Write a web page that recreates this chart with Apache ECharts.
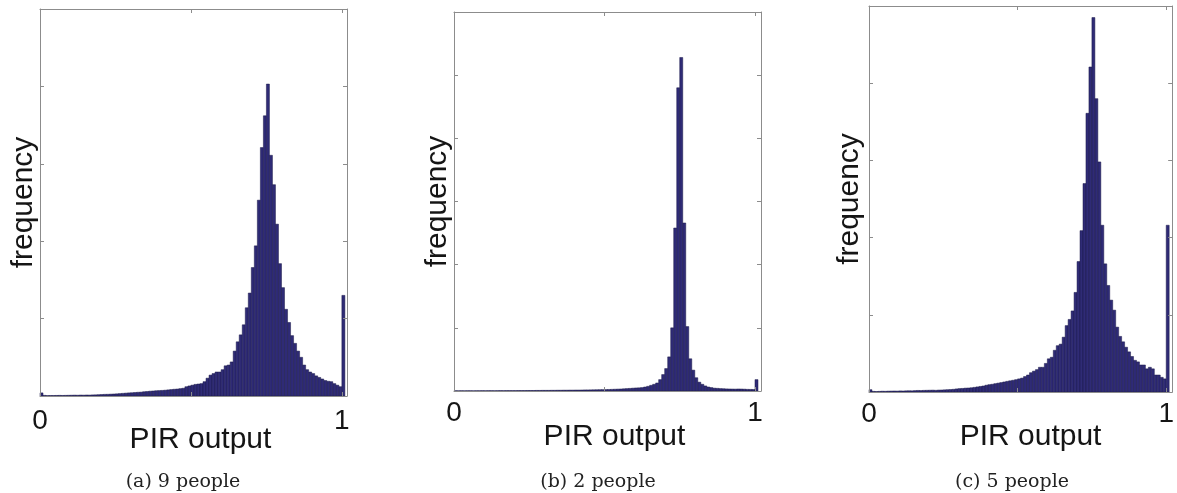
<!DOCTYPE html>
<html><head><meta charset="utf-8">
<script src="https://cdn.jsdelivr.net/npm/echarts@6/dist/echarts.min.js"></script>
<style>html,body{margin:0;padding:0;background:#fff}#c{width:1177px;height:493px}</style>
</head><body><div id="c"></div><script>
// ---- data ----
const binWidth = 0.01;
const binEdges = Array.from({length: 101}, (_, k) => +(k * binWidth).toFixed(2)); // left edges of histogram bins
const freq9 = [0.04,0.008,0.005,0.006,0.006,0.007,0.008,0.007,0.008,0.009,
 0.01,0.011,0.01,0.012,0.011,0.013,0.012,0.014,0.015,0.017,
 0.019,0.021,0.022,0.024,0.026,0.028,0.031,0.034,0.037,0.04,
 0.042,0.045,0.048,0.05,0.055,0.058,0.062,0.065,0.068,0.07,
 0.072,0.075,0.079,0.083,0.087,0.09,0.095,0.10,0.12,0.13,
 0.14,0.15,0.155,0.16,0.185,0.23,0.27,0.29,0.31,0.31,
 0.34,0.39,0.40,0.44,0.58,0.70,0.79,0.92,1.14,1.33,
 1.66,1.94,2.53,3.21,3.62,4.03,3.11,2.73,2.22,1.71,
 1.40,1.12,0.95,0.78,0.68,0.58,0.50,0.40,0.34,0.31,
 0.29,0.26,0.24,0.22,0.20,0.19,0.185,0.16,0.14,0.12,
 1.30];
const freq2 = [0.004,0.003,0.004,0.003,0.004,0.004,0.003,0.004,0.004,0.005,
 0.004,0.005,0.005,0.004,0.005,0.006,0.005,0.006,0.006,0.006,
 0.006,0.007,0.007,0.007,0.008,0.008,0.008,0.009,0.009,0.01,
 0.01,0.01,0.011,0.011,0.012,0.012,0.013,0.013,0.014,0.014,
 0.015,0.015,0.016,0.017,0.017,0.018,0.019,0.02,0.021,0.022,
 0.023,0.024,0.026,0.028,0.03,0.032,0.035,0.038,0.041,0.045,
 0.048,0.05,0.054,0.063,0.074,0.09,0.106,0.127,0.18,0.26,
 0.355,0.54,1.00,2.58,4.80,5.28,2.66,1.02,0.51,0.33,
 0.21,0.14,0.106,0.08,0.063,0.054,0.045,0.042,0.038,0.036,
 0.033,0.032,0.031,0.03,0.032,0.031,0.029,0.026,0.025,0.024,
 0.18];
const freq5 = [0.03,0.008,0.006,0.008,0.01,0.009,0.011,0.012,0.013,0.012,
 0.014,0.013,0.015,0.016,0.015,0.018,0.02,0.019,0.021,0.022,
 0.023,0.024,0.022,0.025,0.026,0.028,0.03,0.032,0.035,0.04,
 0.044,0.046,0.05,0.052,0.055,0.06,0.066,0.072,0.078,0.088,
 0.095,0.10,0.108,0.115,0.122,0.13,0.138,0.145,0.152,0.16,
 0.17,0.18,0.20,0.22,0.25,0.27,0.29,0.32,0.32,0.37,
 0.43,0.45,0.54,0.60,0.62,0.71,0.86,0.94,1.05,1.29,
 1.69,2.09,2.70,3.61,4.21,4.85,3.80,2.98,2.16,1.66,
 1.38,1.19,1.06,0.84,0.72,0.65,0.58,0.52,0.46,0.41,
 0.39,0.35,0.35,0.30,0.32,0.30,0.22,0.22,0.19,0.17,
 2.16];
const xTickValues = [0, 0.5, 1];
const xLabelValues = [0, 1];
const xName = 'PIR output';
const yName = 'frequency';
const captions = ['(a) 9 people', '(b) 2 people', '(c) 5 people'];

// ---- layout ----
const panels = [
  {freq: freq9, left: 40,  top: 9,  width: 307, height: 387, xMax: 1.017, yMax: 5, yGap: 1, lblMargin: 11, nameGap: 29, namePad: 14, cap: [183, 482]},
  {freq: freq2, left: 454, top: 12, width: 307, height: 379, xMax: 1.02,  yMax: 6, yGap: 1, lblMargin: 8,  nameGap: 31, namePad: 14, cap: [598, 482]},
  {freq: freq5, left: 869, top: 6,  width: 307, height: 386, xMax: 1.02,  yMax: 5, yGap: 4, lblMargin: 8,  nameGap: 30, namePad: 20, cap: [1012, 482]}
];
const boxColor = '#8c8c8c';
const sans = '"Liberation Sans", Arial, sans-serif';
const grid = [], xAxis = [], yAxis = [], series = [], graphic = [];

function renderBar(params, api) {
  const x0 = api.value(0), x1 = api.value(1), v = api.value(2);
  const p0 = api.coord([x0, 0]);
  const p1 = api.coord([x1, v]);
  return {type: 'rect', shape: {x: p0[0], y: p1[1], width: p1[0] - p0[0], height: p0[1] - p1[1]},
    style: {fill: '#2f2b76', stroke: '#1b1948', lineWidth: 0.5}};
}

panels.forEach((p, i) => {
  grid.push({left: p.left, top: p.top, width: p.width, height: p.height, containLabel: false});
  const common = {type: 'value', gridIndex: i, min: 0, max: p.xMax, z: 5,
    axisLine: {show: true, onZero: false, lineStyle: {color: boxColor, width: 1}},
    axisTick: {show: true, inside: true, length: 4, customValues: xTickValues, lineStyle: {color: boxColor}},
    splitLine: {show: false}};
  xAxis.push(Object.assign({}, common, {position: 'bottom',
    axisLabel: {show: true, customValues: xLabelValues, formatter: v => String(v), fontSize: 28, color: '#151515', fontFamily: sans, margin: p.lblMargin},
    name: xName, nameLocation: 'middle', nameGap: p.nameGap, nameMoveOverlap: false,
    nameTextStyle: {fontSize: 30, color: '#151515', fontFamily: sans, padding: [0, 0, 0, p.namePad]}}));
  xAxis.push(Object.assign({}, common, {position: 'top', axisLabel: {show: false}}));
  const ycommon = {type: 'value', gridIndex: i, min: 0, max: p.yMax, interval: 1, z: 5,
    axisLine: {show: true, onZero: false, lineStyle: {color: boxColor, width: 1}},
    axisTick: {show: true, inside: true, length: 4, lineStyle: {color: boxColor}},
    axisLabel: {show: false}, splitLine: {show: false}};
  yAxis.push(Object.assign({}, ycommon, {position: 'left', name: yName, nameLocation: 'middle', nameRotate: 90,
    nameGap: p.yGap, nameMoveOverlap: false, nameTextStyle: {fontSize: 30, color: '#151515', fontFamily: sans}}));
  yAxis.push(Object.assign({}, ycommon, {position: 'right'}));
  series.push({type: 'custom', xAxisIndex: 2 * i, yAxisIndex: 2 * i, renderItem: renderBar,
    encode: {x: [0, 1], y: 2}, silent: true,
    data: binEdges.map((e, k) => [e, +(e + binWidth).toFixed(3), p.freq[k]])});
  graphic.push({type: 'text', x: p.cap[0], y: p.cap[1],
    style: {text: captions[i], fontSize: 19, fontFamily: '"DejaVu Serif", "Liberation Serif", serif', fill: '#222', align: 'center', verticalAlign: 'middle'}});
});

const chart = echarts.init(document.getElementById('c'), null, {renderer: 'canvas'});
chart.setOption({animation: false, backgroundColor: '#fff', grid, xAxis, yAxis, series, graphic});
</script></body></html>
